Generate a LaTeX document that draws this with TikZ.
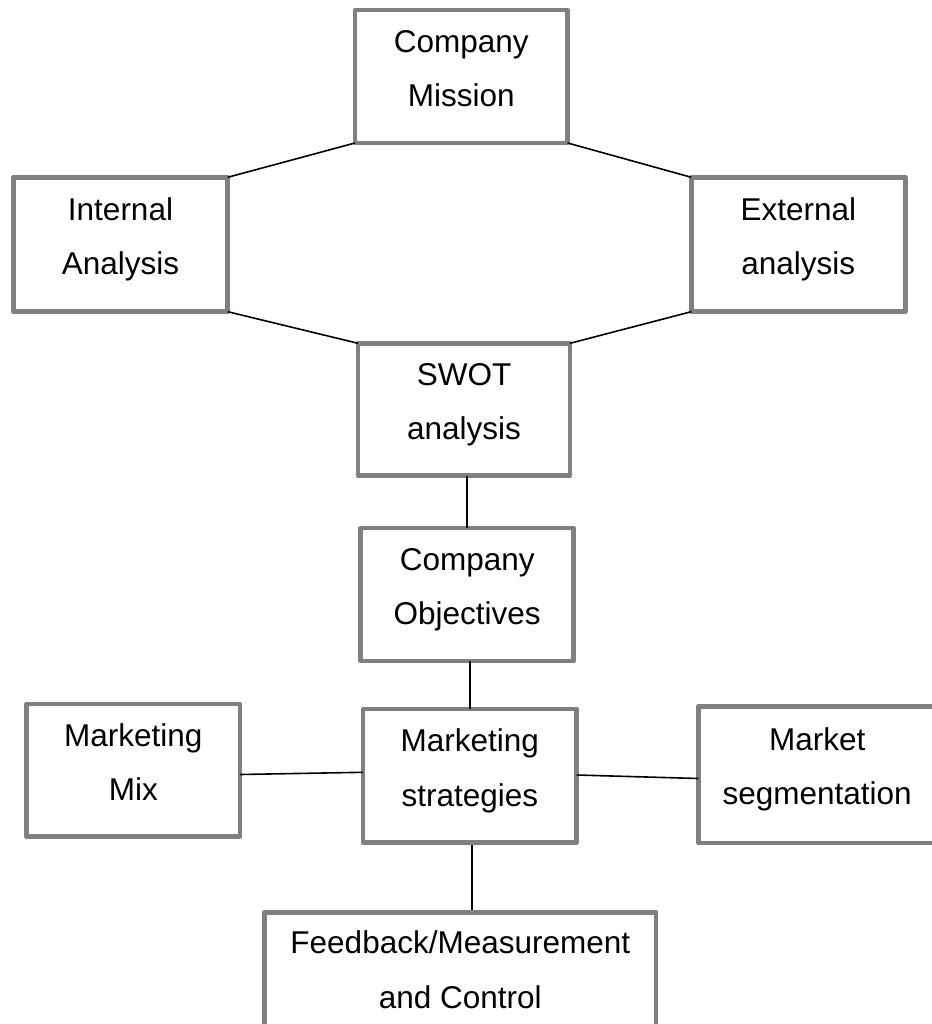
\documentclass[tikz,border=0pt]{standalone}
\usepackage{fontspec}
\setmainfont{Liberation Sans}
\newcommand\lnstrut{\rule[-18pt]{0pt}{42pt}}
\tikzset{
  box/.style={draw=boxgray, line width=4.6pt, line join=round, fill=white,
    inner sep=0pt, outer sep=0pt, align=center,
    font=\fontsize{31.5}{54.6}\selectfont},
  link/.style={draw=black, line width=1.6pt}
}
\definecolor{boxgray}{RGB}{128,128,128}
\begin{document}
\begin{tikzpicture}[x=1pt,y=-1pt]
\useasboundingbox (0,0) rectangle (931,1024);
\fill[white] (0,0) rectangle (931,1024);
% boxes
\node[box, minimum width=212.7pt, minimum height=133pt] (mission) at (461.3,76.5) {\lnstrut Company\\\lnstrut Mission};
\node[box, minimum width=214.4pt, minimum height=134.4pt] (internal) at (120.5,244.5) {\lnstrut Internal\\\lnstrut Analysis};
\node[box, minimum width=214pt, minimum height=134.4pt] (external) at (798.3,244.5) {\lnstrut External\\\lnstrut analysis};
\node[box, minimum width=212pt, minimum height=132.4pt] (swot) at (464,409.5) {\lnstrut SWOT\\\lnstrut analysis};
\node[box, minimum width=213pt, minimum height=133pt] (objectives) at (467.2,594.5) {\lnstrut Company\\\lnstrut Objectives};
\node[box, minimum width=213.3pt, minimum height=132.7pt] (mix) at (133.3,770.3) {\lnstrut Marketing\\\lnstrut Mix};
\node[box, minimum width=213.7pt, minimum height=133.7pt] (strategies) at (469.8,775.8) {\lnstrut Marketing\\\lnstrut strategies};
\node[box, minimum width=237.5pt, minimum height=136.6pt] (segmentation) at (817.2,774.5) {\lnstrut Market\\\lnstrut segmentation};
\node[box, minimum width=391.5pt, minimum height=131pt] (feedback) at (460.3,977.8) {\lnstrut Feedback/Measurement\\\lnstrut and Control};
% connectors
\draw[link] (mission.south west) -- (internal.north east);
\draw[link] (mission.south east) -- (external.north west);
\draw[link] (internal.south east) -- (swot.north west);
\draw[link] (external.south west) -- (swot.north east);
\draw[link] ([xshift=-0.2pt]objectives.north) -- ([xshift=-0.2pt]objectives.north |- swot.south);
\draw[link] ([xshift=0.2pt]strategies.north) -- ([xshift=0.2pt]strategies.north |- objectives.south);
\draw[link] ([xshift=2.2pt,yshift=-2pt]strategies.south) -- ([xshift=2.2pt,yshift=2pt]strategies.south |- feedback.north);
\draw[link] ([yshift=-4.2pt]mix.east) -- ([yshift=3.5pt]strategies.west);
\draw[link] ([yshift=0.8pt]strategies.east) -- ([yshift=-4pt]segmentation.west);
\end{tikzpicture}
\end{document}
